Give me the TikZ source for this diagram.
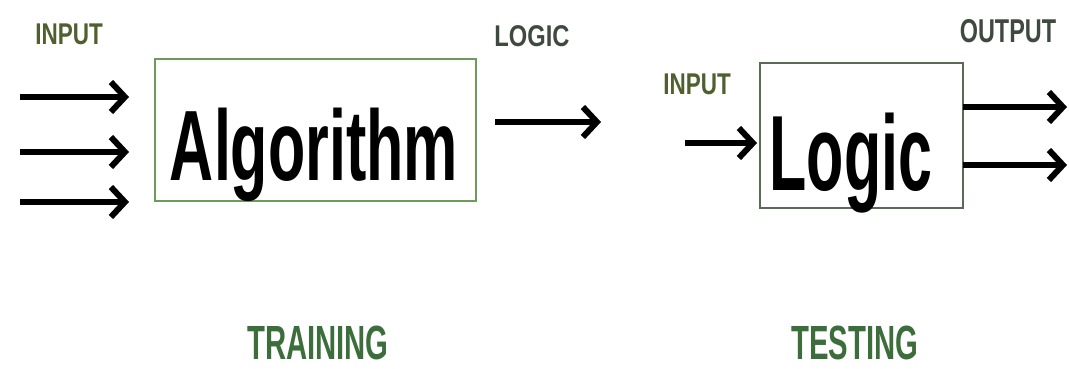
\documentclass[tikz,border=0pt]{standalone}
\usepackage{fontspec}
\setmainfont{Liberation Sans}
\usetikzlibrary{arrows.meta}
\definecolor{inpc}{HTML}{4F6030}
\definecolor{logc}{HTML}{3F4A3F}
\definecolor{trc}{HTML}{3C6E3C}
\definecolor{boxa}{HTML}{6D9B5A}
\definecolor{boxl}{HTML}{5A6A55}
\tikzset{
  arr/.style={line width=6.5pt, -{Straight Barb[length=14pt,width=30pt,line width=6pt]}},
  lbl/.style={anchor=base, inner sep=0pt, font=\bfseries\fontsize{30}{30}\selectfont},
  big/.style={anchor=base, inner sep=0pt, text=black},
}
\newcommand{\sx}[2]{\scalebox{#1}[1]{#2}}
\begin{document}
\begin{tikzpicture}[x=1pt,y=-1pt]
\useasboundingbox (0,0) rectangle (1069,369);
% training part
\draw[boxa, line width=2pt] (155,59) rectangle (476,201);
\node[big, font=\bfseries\fontsize{100}{100}\selectfont] (alg) at (314,180) {\sx{0.61}{Algorithm}};
\node[lbl, text=inpc] (in1) at (69,45) {\sx{0.75}{INPUT}};
\node[lbl, text=logc] (lg) at (532,47) {\sx{0.79}{LOGIC}};
\coordinate (a1s) at (20,97);  \coordinate (a1e) at (129,97);
\coordinate (a2s) at (20,152); \coordinate (a2e) at (129,152);
\coordinate (a3s) at (20,202); \coordinate (a3e) at (129,202);
\draw[arr] (a1s) -- (a1e);
\draw[arr] (a2s) -- (a2e);
\draw[arr] (a3s) -- (a3e);
\coordinate (las) at (495,122); \coordinate (lae) at (601,122);
\draw[arr] (las) -- (lae);
\node[lbl, text=trc, font=\bfseries\fontsize{48}{48}\selectfont] (tr) at (318,359) {\sx{0.61}{TRAINING}};
% testing part
\draw[boxl, line width=2pt] (760,63) rectangle (963,208);
\node[big, font=\bfseries\fontsize{107}{107}\selectfont] (lgc) at (851,190) {\sx{0.57}{Logic}};
\node[lbl, text=inpc] (in2) at (697,95) {\sx{0.75}{INPUT}};
\node[lbl, text=logc, font=\bfseries\fontsize{33}{33}\selectfont] (out) at (1008,43) {\sx{0.71}{OUTPUT}};
\coordinate (ibs) at (685,143); \coordinate (ibe) at (757,143);
\draw[arr] (ibs) -- (ibe);
\coordinate (o1s) at (963,107); \coordinate (o1e) at (1067,107);
\coordinate (o2s) at (963,165); \coordinate (o2e) at (1067,165);
\draw[arr] (o1s) -- (o1e);
\draw[arr] (o2s) -- (o2e);
\node[lbl, text=trc, font=\bfseries\fontsize{48}{48}\selectfont] (ts) at (855,359) {\sx{0.61}{TESTING}};
\end{tikzpicture}
\end{document}
